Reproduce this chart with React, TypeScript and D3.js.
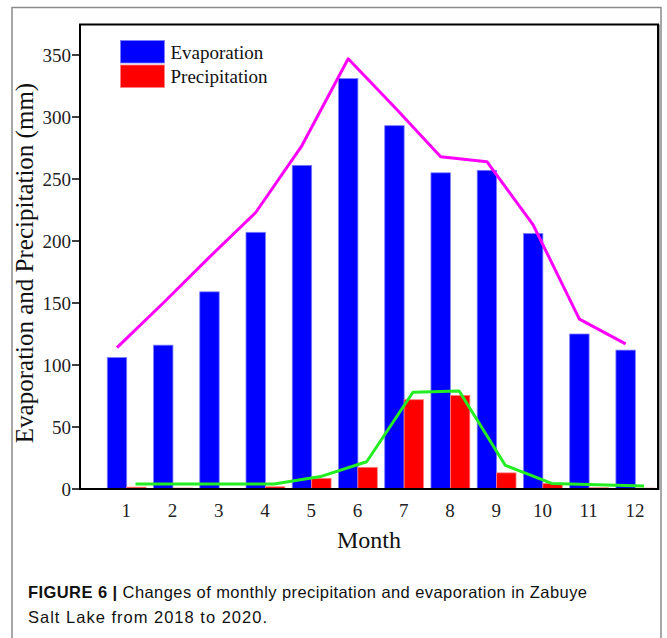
import React from 'react';
import * as d3 from 'd3';

// monthly values (mm)
const months = [1, 2, 3, 4, 5, 6, 7, 8, 9, 10, 11, 12];
const evaporation = [106, 116, 159, 207, 261, 331, 293, 255, 257, 206, 125, 112];
const precipitation = [1.5, 0.8, 0.3, 1.8, 8.6, 17.5, 72, 75.5, 13, 4.5, 1, 0.7];
const evapTrend = [114, 150, 187, 223, 277, 347, 308, 268, 264, 213, 137, 117];
const precipTrend = [4, 4, 4, 4, 10, 22, 78, 79, 19, 4.5, 3.5, 2.5];
const yTicks = [0, 50, 100, 150, 200, 250, 300, 350];

const serif = '"Liberation Serif", "Times New Roman", serif';
const sans = '"Liberation Sans", Arial, sans-serif';

const App = () => {
  const W = 667;
  const H = 638;
  const margin = { top: 24.5, right: 9, bottom: 149, left: 80 };
  const x0 = margin.left;
  const x1 = W - margin.right;
  const y0 = margin.top;
  const y1 = H - margin.bottom;

  const x = d3.scaleLinear().domain([0, 12.5]).range([x0, x1]);
  const y = d3.scaleLinear().domain([0, 374.6]).range([y1, y0]);
  const barW = x(0.42) - x(0);

  const evapLine = d3.line<number>()
    .x((_, i) => x(months[i] - 0.2))
    .y(d => y(d));
  const precLine = d3.line<number>()
    .x((_, i) => x(months[i] + 0.2))
    .y(d => y(d));

  return (
    <svg width={W} height={H} style={{ position: 'absolute', left: 0, top: 0, background: '#fff' }}>
      {/* outer figure frame */}
      <rect x={12} y={7.5} width={649} height={660} fill="none" stroke="#8a8a8a" strokeWidth={1.5} />

      {/* bars */}
      {months.map((m, i) => (
        <rect key={'e' + m} x={x(m - 0.41)} y={y(evaporation[i])} width={barW}
          height={y(0) - y(evaporation[i])} fill="#0000ff" stroke="#7d7dff" strokeWidth={0.8} />
      ))}
      {months.map((m, i) => (
        <rect key={'p' + m} x={x(m + 0.01)} y={y(precipitation[i])} width={barW}
          height={y(0) - y(precipitation[i])} fill="#ff0000" stroke="#ff8080" strokeWidth={0.8} />
      ))}

      {/* trend lines */}
      <path d={evapLine(evapTrend) || ''} fill="none" stroke="#ff00ff" strokeWidth={3} strokeLinejoin="round" />
      <path d={precLine(precipTrend) || ''} fill="none" stroke="#22ee22" strokeWidth={3} strokeLinejoin="round" />

      {/* plot frame */}
      <rect x={x0} y={y0} width={x1 - x0} height={y1 - y0} fill="none" stroke="#000" strokeWidth={2} />
      <line x1={x1 + 1.5} y1={y0} x2={x1 + 1.5} y2={y1 + 1} stroke="#999" strokeWidth={1} />

      {/* y axis */}
      {yTicks.map(t => (
        <g key={t}>
          <line x1={x0 - 8} x2={x0} y1={y(t)} y2={y(t)} stroke="#000" strokeWidth={1.5} />
          <text x={x0 - 9} y={y(t)} dy="0.36em" textAnchor="end" fontFamily={serif} fontSize={19} fill="#222">{t}</text>
        </g>
      ))}
      <text transform="translate(33, 263) rotate(-90)" textAnchor="middle"
        fontFamily={serif} fontSize={25} fill="#111">Evaporation and Precipitation (mm)</text>

      {/* x axis */}
      {months.map(m => (
        <text key={m} x={x(m)} y={517} textAnchor="middle" fontFamily={serif} fontSize={19} fill="#222">{m}</text>
      ))}
      <text x={(x0 + x1) / 2} y={548} textAnchor="middle" fontFamily={serif} fontSize={24} fill="#111">Month</text>

      {/* legend */}
      <rect x={120.5} y={40.5} width={44} height={22.5} fill="#0000ff" stroke="#7d7dff" strokeWidth={0.8} />
      <rect x={120.5} y={65} width={44} height={22.5} fill="#ff0000" stroke="#ff8080" strokeWidth={0.8} />
      <text x={170.5} y={59.3} fontFamily={serif} fontSize={19} fill="#111">Evaporation</text>
      <text x={170.5} y={83.3} fontFamily={serif} fontSize={19} fill="#111">Precipitation</text>

      {/* caption */}
      <text x={28} y={598.3} fontFamily={sans} fontSize={16.5} fill="#111" textLength={559} lengthAdjust="spacing">
        <tspan fontWeight="bold">FIGURE 6 | </tspan>
        <tspan>Changes of monthly precipitation and evaporation in Zabuye</tspan>
      </text>
      <text x={28} y={622.7} fontFamily={sans} fontSize={16.5} fill="#111" textLength={239} lengthAdjust="spacing">Salt Lake from 2018 to 2020.</text>
    </svg>
  );
};

export default App;
